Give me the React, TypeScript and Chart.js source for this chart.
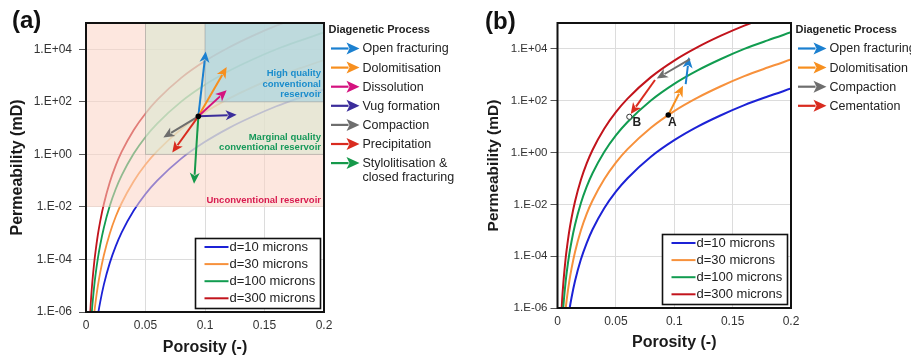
import React, { useEffect, useRef } from 'react';
import { Chart, registerables } from 'chart.js';

Chart.register(...registerables);

const FONT = "'Liberation Sans', Arial, Helvetica, sans-serif";

// ---------- data ----------
const porosity = [0.002, 0.003, 0.004, 0.005, 0.006, 0.007, 0.008, 0.01, 0.012, 0.015, 0.02, 0.025, 0.03, 0.04, 0.05, 0.06, 0.08, 0.1, 0.12, 0.14, 0.16, 0.18, 0.2];
const permD10 = [null, null, null, null, null, null, 1.74e-7, 7.6e-7, 2.5e-6, 1.1e-5, 7.4e-5, 3.2e-4, 1.07e-3, 7.1e-3, 3.1e-2, 0.102, 0.69, 3.0, 10, 27.5, 67.6, 145, 295];
const permD30 = [null, null, null, 1.02e-7, 3.4e-7, 9.5e-7, 2.3e-6, 1.0e-5, 3.3e-5, 1.45e-4, 9.8e-4, 4.3e-3, 1.41e-2, 9.3e-2, 0.41, 1.35, 9.1, 40, 132, 363, 891, 1905, 3890];
const permD100 = [null, null, 2.6e-7, 1.15e-6, 3.8e-6, 1.07e-5, 2.6e-5, 1.12e-4, 3.7e-4, 1.62e-3, 1.1e-2, 4.8e-2, 0.158, 1.05, 4.6, 15.1, 102, 447, 1480, 4070, 10000, 21400, 43700];
const permD300 = [null, 3.2e-7, 2.1e-6, 9.1e-6, 3.0e-5, 8.5e-5, 2.0e-4, 8.9e-4, 2.95e-3, 1.29e-2, 8.7e-2, 0.38, 1.26, 8.3, 36, 120, 813, 3550, 11700, 32400, 79400, 170000, 350000];
const curveLabels = ['d=10 microns', 'd=30 microns', 'd=100 microns', 'd=300 microns'];
const curveColors = ['#1c22d6', '#f7913c', '#119c50', '#c2141c'];

const yTickValues = [1e-6, 1e-4, 1e-2, 1, 1e2, 1e4];
const yTickLabels = ['1.E-06', '1.E-04', '1.E-02', '1.E+00', '1.E+02', '1.E+04'];
const xTickValues = [0, 0.05, 0.1, 0.15, 0.2];
const xTickLabels = ['0', '0.05', '0.1', '0.15', '0.2'];

// panel (a) reservoir zones
const unconventionalMinK = 0.01;
const marginalMinPhi = 0.05;
const marginalMinK = 1;
const highMinPhi = 0.1;
const highMinK = 100;

// panel (a) diagenetic arrows
const originA = { phi: 0.0944, k: 28 };
const processesA = ['Open fracturing', 'Dolomitisation', 'Dissolution', 'Vug formation', 'Compaction', 'Precipitation', 'Stylolitisation &|closed fracturing'];
const processColorsA = ['#1b80d0', '#f78f1e', '#d4127f', '#3b2d9b', '#6e6e6e', '#d92b1f', '#15994a'];
const arrowEndPhiA = [0.1006, 0.1182, 0.1182, 0.1266, 0.065, 0.0725, 0.0908];
const arrowEndKA = [8300, 2100, 275, 32, 4.4, 1.17, 0.076];

// panel (b) diagenetic path
const processesB = ['Open fracturing', 'Dolomitisation', 'Compaction', 'Cementation'];
const processColorsB = ['#1b80d0', '#f78f1e', '#6e6e6e', '#d92b1f'];
const pathProcessB = ['Dolomitisation', 'Open fracturing', 'Compaction', 'Cementation'];
const pathStartPhiB = [0.0949, 0.1098, 0.1135, 0.0835];
const pathStartKB = [28, 440, 4000, 630];
const pathEndPhiB = [0.1075, 0.1126, 0.085, 0.0627];
const pathEndKB = [380, 4900, 720, 31];
const pointA = { phi: 0.0949, k: 28 };
const pointB = { phi: 0.0615, k: 24 };

// ---------- helpers ----------
const series = [permD10, permD30, permD100, permD300];

function drawArrow(ctx: CanvasRenderingContext2D, x1: number, y1: number, x2: number, y2: number, color: string, lw = 2, head = 11, hw = 5) {
  const ang = Math.atan2(y2 - y1, x2 - x1);
  const bx = x2 - head * Math.cos(ang);
  const by = y2 - head * Math.sin(ang);
  ctx.save();
  ctx.strokeStyle = color;
  ctx.fillStyle = color;
  ctx.lineWidth = lw;
  ctx.beginPath();
  ctx.moveTo(x1, y1);
  ctx.lineTo(bx + 2 * Math.cos(ang), by + 2 * Math.sin(ang));
  ctx.stroke();
  ctx.beginPath();
  ctx.moveTo(x2, y2);
  ctx.lineTo(bx + hw * Math.sin(ang), by - hw * Math.cos(ang));
  ctx.lineTo(bx + 3 * Math.cos(ang), by + 3 * Math.sin(ang));
  ctx.lineTo(bx - hw * Math.sin(ang), by + hw * Math.cos(ang));
  ctx.closePath();
  ctx.fill();
  ctx.restore();
}

function drawCurveLegend(ctx: CanvasRenderingContext2D, ca: any) {
  const w = 125, h = 70;
  const right = ca.right - 3.5, bottom = ca.bottom - 3.5;
  const left = right - w, top = bottom - h;
  ctx.save();
  ctx.fillStyle = '#fff';
  ctx.fillRect(left, top, w, h);
  ctx.strokeStyle = '#111';
  ctx.lineWidth = 1.6;
  ctx.strokeRect(left, top, w, h);
  ctx.font = `13px ${FONT}`;
  ctx.textBaseline = 'middle';
  ctx.textAlign = 'left';
  curveLabels.forEach((lab, i) => {
    const y = top + 8.5 + i * 17.1;
    ctx.strokeStyle = curveColors[i];
    ctx.lineWidth = 2;
    ctx.beginPath();
    ctx.moveTo(left + 9, y);
    ctx.lineTo(left + 33, y);
    ctx.stroke();
    ctx.fillStyle = '#222';
    ctx.fillText(lab, left + 34, y + 0.5);
  });
  ctx.restore();
}

function drawProcessLegend(ctx: CanvasRenderingContext2D, ca: any, labels: string[], colors: string[]) {
  const x0 = ca.right + 4.5;
  ctx.save();
  ctx.textBaseline = 'middle';
  ctx.textAlign = 'left';
  ctx.fillStyle = '#222';
  ctx.font = `bold 11px ${FONT}`;
  ctx.fillText('Diagenetic Process', x0, 30);
  ctx.font = `12.5px ${FONT}`;
  labels.forEach((lab, i) => {
    const y = 48.5 + i * 19.1;
    drawArrow(ctx, x0 + 2.5, y, x0 + 31, y, colors[i], 2.2, 13, 6);
    ctx.fillStyle = '#222';
    const parts = lab.split('|');
    parts.forEach((p, j) => ctx.fillText(p, x0 + 34, y + 0.5 + j * 14));
  });
  ctx.restore();
}

function drawBorder(ctx: CanvasRenderingContext2D, ca: any) {
  ctx.save();
  ctx.strokeStyle = '#111';
  ctx.lineWidth = 2;
  ctx.strokeRect(ca.left, ca.top, ca.right - ca.left, ca.bottom - ca.top);
  ctx.restore();
}

const panelAPlugin = {
  id: 'panelA',
  afterDatasetsDraw(chart: any) {
    const { ctx, chartArea: ca, scales } = chart;
    const xs = scales.x, ys = scales.y;
    ctx.save();
    ctx.beginPath();
    ctx.rect(ca.left, ca.top, ca.right - ca.left, ca.bottom - ca.top);
    ctx.clip();
    // unconventional (pink)
    const yU = ys.getPixelForValue(unconventionalMinK);
    ctx.fillStyle = 'rgba(252,212,196,0.55)';
    ctx.fillRect(ca.left, ca.top, ca.right - ca.left, yU - ca.top);
    // marginal (olive)
    const xm = xs.getPixelForValue(marginalMinPhi), ym = ys.getPixelForValue(marginalMinK);
    ctx.fillStyle = 'rgba(218,232,208,0.6)';
    ctx.fillRect(xm, ca.top, ca.right - xm, ym - ca.top);
    ctx.strokeStyle = 'rgba(140,140,140,0.45)';
    ctx.lineWidth = 1;
    ctx.strokeRect(xm, ca.top, ca.right - xm, ym - ca.top);
    // high quality (blue)
    const xh = xs.getPixelForValue(highMinPhi), yh = ys.getPixelForValue(highMinK);
    ctx.fillStyle = 'rgba(168,210,225,0.65)';
    ctx.fillRect(xh, ca.top, ca.right - xh, yh - ca.top);
    ctx.strokeRect(xh, ca.top, ca.right - xh, yh - ca.top);
    ctx.restore();

    // zone labels
    ctx.save();
    ctx.font = `bold 9.5px ${FONT}`;
    ctx.textAlign = 'right';
    ctx.textBaseline = 'middle';
    const rx = ca.right - 3;
    ctx.fillStyle = '#1b8dcc';
    ctx.fillText('High quality', rx, yh - 28);
    ctx.fillText('conventional', rx, yh - 17.5);
    ctx.fillText('reservoir', rx, yh - 7);
    ctx.fillStyle = '#17995a';
    ctx.fillText('Marginal quality', rx, ym - 17);
    ctx.fillText('conventional reservoir', rx, ym - 7);
    ctx.fillStyle = '#d81c50';
    ctx.fillText('Unconventional reservoir', rx, yU - 7);
    ctx.restore();

    // arrows
    const ox = xs.getPixelForValue(originA.phi), oy = ys.getPixelForValue(originA.k);
    processesA.forEach((_, i) => {
      drawArrow(ctx, ox, oy, xs.getPixelForValue(arrowEndPhiA[i]), ys.getPixelForValue(arrowEndKA[i]), processColorsA[i], 2, 11, 5);
    });
    ctx.save();
    ctx.fillStyle = '#000';
    ctx.beginPath();
    ctx.arc(ox, oy, 2.8, 0, Math.PI * 2);
    ctx.fill();
    ctx.restore();
  },
  afterDraw(chart: any) {
    const { ctx, chartArea: ca } = chart;
    drawBorder(ctx, ca);
    drawCurveLegend(ctx, ca);
    drawProcessLegend(ctx, ca, processesA, processColorsA);
    ctx.save();
    ctx.font = `bold 24px ${FONT}`;
    ctx.fillStyle = '#111';
    ctx.textBaseline = 'middle';
    ctx.textAlign = 'left';
    ctx.fillText('(a)', 12, 21);
    ctx.restore();
  },
};

const panelBPlugin = {
  id: 'panelB',
  afterDatasetsDraw(chart: any) {
    const { ctx, scales } = chart;
    const xs = scales.x, ys = scales.y;
    pathProcessB.forEach((p, i) => {
      const c = processColorsB[processesB.indexOf(p)];
      drawArrow(ctx, xs.getPixelForValue(pathStartPhiB[i]), ys.getPixelForValue(pathStartKB[i]),
        xs.getPixelForValue(pathEndPhiB[i]), ys.getPixelForValue(pathEndKB[i]), c, 2, 11, 5);
    });
    const ax = xs.getPixelForValue(pointA.phi), ay = ys.getPixelForValue(pointA.k);
    const bx = xs.getPixelForValue(pointB.phi), by = ys.getPixelForValue(pointB.k);
    ctx.save();
    ctx.fillStyle = '#000';
    ctx.beginPath();
    ctx.arc(ax, ay, 2.8, 0, Math.PI * 2);
    ctx.fill();
    ctx.fillStyle = '#fff';
    ctx.strokeStyle = '#333';
    ctx.lineWidth = 1;
    ctx.beginPath();
    ctx.arc(bx, by, 2.6, 0, Math.PI * 2);
    ctx.fill();
    ctx.stroke();
    ctx.fillStyle = '#222';
    ctx.font = `bold 12px ${FONT}`;
    ctx.textAlign = 'center';
    ctx.textBaseline = 'middle';
    ctx.fillText('A', ax + 4, ay + 7.5);
    ctx.fillText('B', bx + 7.5, by + 6);
    ctx.restore();
  },
  afterDraw(chart: any) {
    const { ctx, chartArea: ca } = chart;
    drawBorder(ctx, ca);
    drawCurveLegend(ctx, ca);
    drawProcessLegend(ctx, ca, processesB, processColorsB);
    ctx.save();
    ctx.font = `bold 24px ${FONT}`;
    ctx.fillStyle = '#111';
    ctx.textBaseline = 'middle';
    ctx.textAlign = 'left';
    ctx.fillText('(b)', 25, 22);
    ctx.restore();
  },
};

type Spec = {
  width: number;
  padRight: number;
  yAxisWidth: number;
  xAxisHeight: number;
  yTickPad: number;
  yTickSize: number;
  yTitlePad: number;
  yTitleSize: number;
  xTitlePad: number;
  lineWidth: number;
  plugin: any;
};

function makeConfig(spec: Spec): any {
  const datasets = series.map((vals, i) => ({
    label: curveLabels[i],
    data: porosity.map((x, j) => ({ x, y: vals[j] })).filter((p) => p.y !== null),
    borderColor: curveColors[i],
    backgroundColor: curveColors[i],
    borderWidth: spec.lineWidth,
    pointRadius: 0,
    showLine: true,
    cubicInterpolationMode: 'monotone',
    fill: false,
  }));
  return {
    type: 'scatter',
    data: { datasets },
    options: {
      animation: false,
      responsive: false,
      events: [],
      layout: { padding: { left: 0, top: 23, right: spec.padRight, bottom: 0 } },
      plugins: { legend: { display: false }, tooltip: { enabled: false } },
      scales: {
        x: {
          type: 'linear',
          min: 0,
          max: 0.2,
          afterBuildTicks: (s: any) => { s.ticks = xTickValues.map((v) => ({ value: v })); },
          afterFit: (s: any) => { s.height = spec.xAxisHeight; },
          ticks: {
            callback: (_v: any, idx: number) => xTickLabels[idx],
            font: { size: 12, family: FONT },
            color: '#333',
            padding: 6,
            maxRotation: 0,
            autoSkip: false,
          },
          grid: { color: '#dcdcdc', drawTicks: false, lineWidth: 1 },
          border: { display: false },
          title: {
            display: true,
            text: 'Porosity (-)',
            color: '#1a1a1a',
            font: { size: 16, weight: 'bold', family: FONT },
            padding: { top: 0, bottom: spec.xTitlePad },
          },
        },
        y: {
          type: 'logarithmic',
          min: 1e-6,
          max: 1e5,
          afterBuildTicks: (s: any) => { s.ticks = yTickValues.map((v) => ({ value: v })); },
          afterFit: (s: any) => { s.width = spec.yAxisWidth; },
          ticks: {
            callback: (_v: any, idx: number) => yTickLabels[idx],
            font: { size: spec.yTickSize, family: FONT },
            color: '#333',
            padding: spec.yTickPad,
            autoSkip: false,
          },
          grid: { color: '#dcdcdc', tickColor: '#555', tickLength: 7, lineWidth: 1 },
          border: { display: false },
          title: {
            display: true,
            text: 'Permeability (mD)',
            color: '#1a1a1a',
            font: { size: spec.yTitleSize, weight: 'bold', family: FONT },
            padding: { top: spec.yTitlePad, bottom: 0 },
          },
        },
      },
    },
    plugins: [spec.plugin],
  };
}

const specA: Spec = {
  width: 460, padRight: 136, yAxisWidth: 86, xAxisHeight: 47, yTickPad: 7, yTickSize: 12,
  yTitlePad: 8, yTitleSize: 16, xTitlePad: 2, lineWidth: 1.8, plugin: panelAPlugin,
};
const specB: Spec = {
  width: 451, padRight: 120, yAxisWidth: 97.5, xAxisHeight: 51, yTickPad: 3, yTickSize: 11.5,
  yTitlePad: 24, yTitleSize: 15.5, xTitlePad: 7, lineWidth: 2, plugin: panelBPlugin,
};

function Panel({ spec, left }: { spec: Spec; left: number }) {
  const ref = useRef<HTMLCanvasElement | null>(null);
  useEffect(() => {
    if (!ref.current) return;
    const chart = new Chart(ref.current, makeConfig(spec));
    return () => chart.destroy();
  }, [spec]);
  return (
    <div style={{ position: 'absolute', left, top: 0, width: spec.width, height: 359 }}>
      <canvas ref={ref} width={spec.width} height={359} style={{ width: spec.width, height: 359, display: 'block' }} />
    </div>
  );
}

export default function App() {
  return (
    <div style={{ position: 'fixed', left: 0, top: 0, width: 911, height: 359, background: '#fff', overflow: 'hidden' }}>
      <Panel spec={specA} left={0} />
      <Panel spec={specB} left={460} />
    </div>
  );
}
